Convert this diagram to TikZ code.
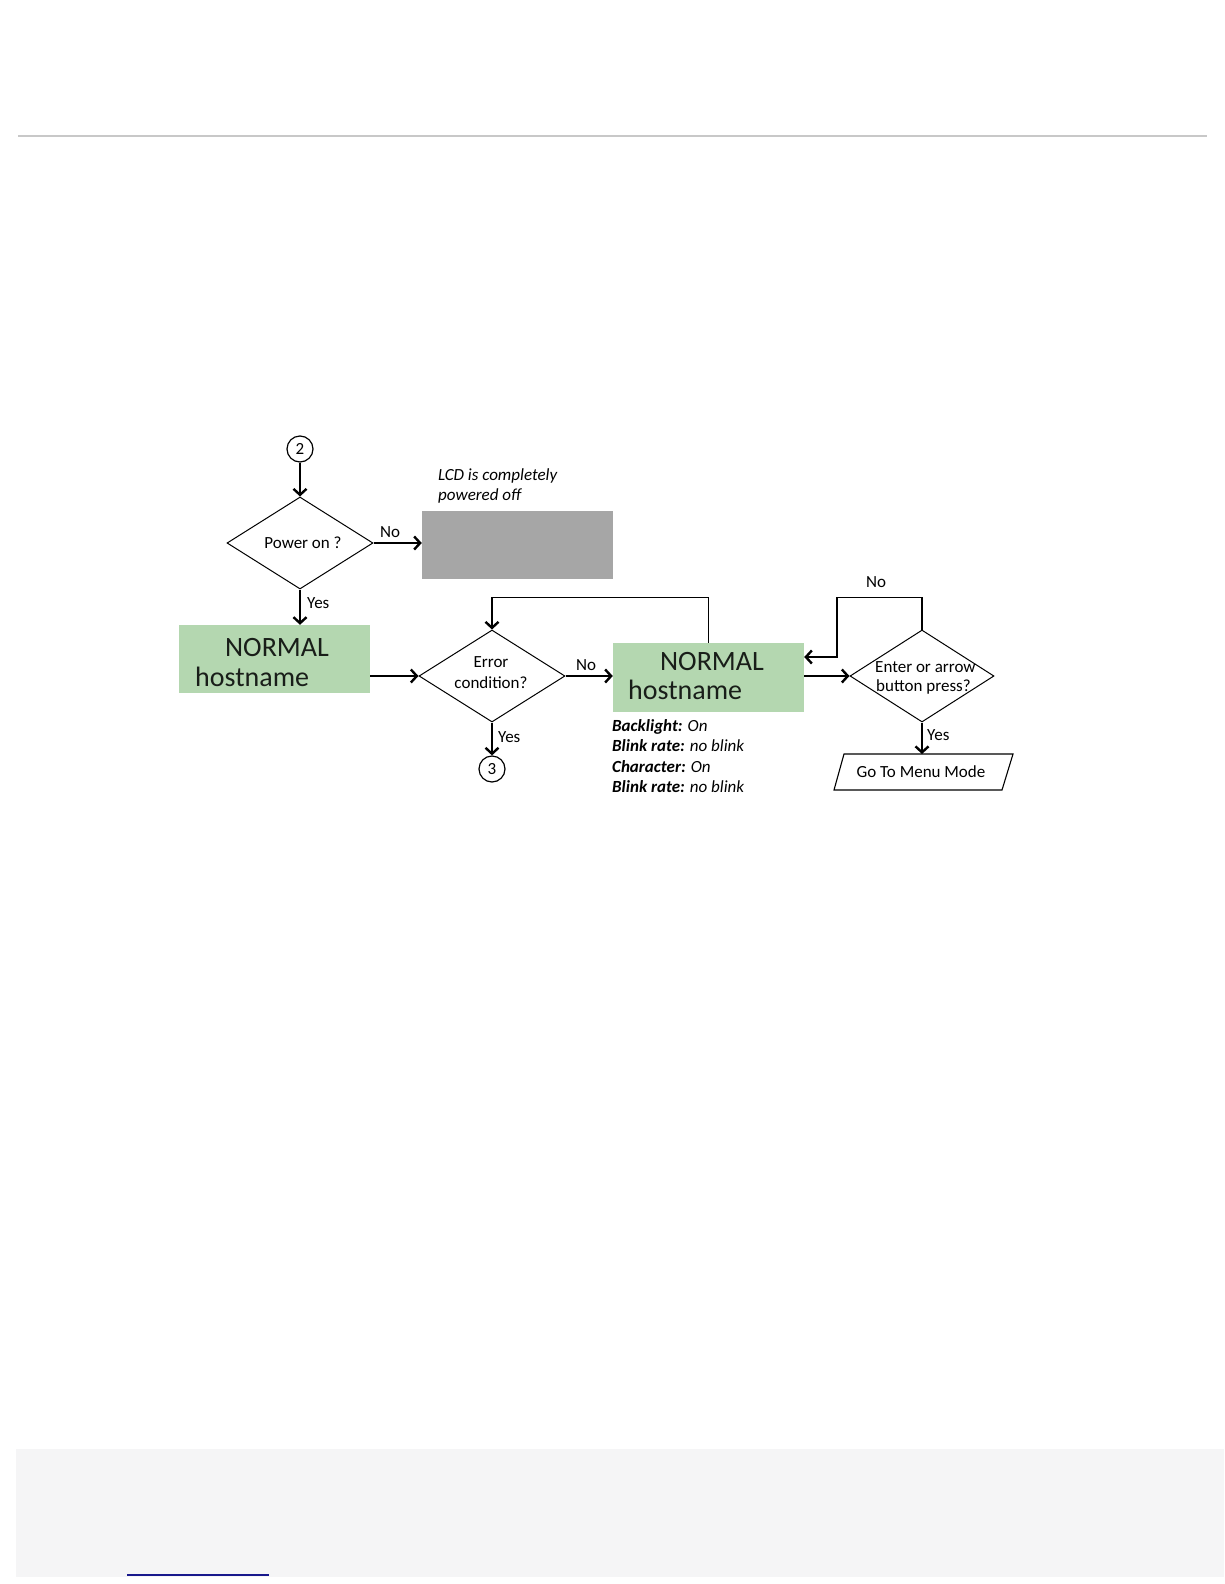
\documentclass[tikz,border=0pt]{standalone}
\usepackage{fontspec}
\setmainfont{Carlito}
\usetikzlibrary{arrows.meta,shapes.geometric}
\definecolor{boxgreen}{RGB}{180,215,176}
\definecolor{boxgray}{RGB}{166,166,166}
\definecolor{rulegray}{RGB}{200,200,200}
\definecolor{footgray}{RGB}{245,245,246}
\definecolor{linknavy}{RGB}{24,24,140}
\definecolor{ink}{RGB}{25,30,25}
\tikzset{
  conn/.style={line width=1.3pt, -{Straight Barb[length=6pt,width=13pt,line width=2.4pt]}},
  dia/.style={diamond, draw, line width=1pt, inner sep=0pt, minimum width=146pt, minimum height=92pt},
  greenbox/.style={rectangle, fill=boxgreen, inner sep=0pt, minimum width=191pt, minimum height=68pt},
  numcirc/.style={circle, draw, line width=1.2pt, minimum size=26pt, inner sep=0pt, font=\fontsize{17}{20}\selectfont},
  lbl/.style={inner sep=0pt, font=\fontsize{17}{20}\selectfont},
  big/.style={inner sep=0pt, text=ink, font=\fontsize{28}{31}\selectfont},
}
\begin{document}
\begin{tikzpicture}[x=1pt,y=-1pt]
\useasboundingbox (0,0) rectangle (1224,1584);
\fill[white] (0,0) rectangle (1224,1584);
% page decorations
\draw[rulegray, line width=1.5pt] (18,136) -- (1207,136);
\fill[footgray] (16,1449) rectangle (1224,1577);
\draw[linknavy, line width=1.5pt] (127,1575) -- (269,1575);

% nodes
\node[numcirc] (c2) at (300,449) {2};
\node[dia] (d1) at (300,543) {};
\node[lbl] (t1) at (303,543) {Power on ?};
\node[rectangle, fill=boxgray, inner sep=0pt, minimum width=191pt, minimum height=68pt] (off) at (517.5,545) {};
\node[lbl, anchor=base west] (lcd1) at (438,480) {\itshape LCD is completely};
\node[lbl, anchor=base west] (lcd2) at (438,500) {\itshape powered off};

\node[greenbox] (g1) at (274.5,659) {};
\node[big, anchor=base] (g1a) at (277,656) {NORMAL};
\node[big, anchor=base west] (g1b) at (195,686) {hostname};

\node[dia] (d2) at (492,676) {};
\node[lbl, anchor=base] (t2a) at (491,667) {Error};
\node[lbl, anchor=base] (t2b) at (491,688) {condition?};
\node[numcirc] (c3) at (492,769) {3};

\node[greenbox, minimum height=69pt] (g2) at (708.5,677.5) {};
\node[big, anchor=base] (g2a) at (712,670) {NORMAL};
\node[big, anchor=base west] (g2b) at (628,699) {hostname};

\node[lbl, anchor=base west] (n1) at (612,731) {{\bfseries\itshape Backlight:} \itshape On};
\node[lbl, anchor=base west] (n2) at (612,751.5) {{\bfseries\itshape Blink rate:} \itshape no blink};
\node[lbl, anchor=base west] (n3) at (612,772) {{\bfseries\itshape Character:} \itshape On};
\node[lbl, anchor=base west] (n4) at (612,792.5) {{\bfseries\itshape Blink rate:} \itshape no blink};

\node[dia, minimum width=144pt] (d3) at (922,676) {};
\node[lbl, anchor=base west] (t3a) at (875,672) {Enter or arrow};
\node[lbl, anchor=base west] (t3b) at (876,691) {button press?};

\draw[line width=1.1pt] (844,754) coordinate (mtl) -- (1013,754) -- (1002,790) -- (834,790) -- cycle;
\coordinate (menutop) at (922,754);
\node[lbl, anchor=base] (menu) at (921,777) {Go To Menu Mode};

% connectors
\draw[conn] (c2) -- (d1.north);
\draw[conn] (d1.east) -- (d1.east -| off.west);
\node[lbl, anchor=base] (no1) at (390,537) {No};
\draw[conn] (d1.south) -- (d1.south |- g1.north);
\node[lbl, anchor=base west] (yes1) at (307,608) {Yes};

\draw[conn] (g1.east |- d2.west) -- (d2.west);
\draw[conn] (d2.east) -- (d2.east -| g2.west);
\node[lbl, anchor=base] (no2) at (586,670) {No};
\draw[conn] (g2.north) -- ++(0,-45) -| (d2.north);
\draw[conn] (d2.south) -- (c3.north);
\node[lbl, anchor=base west] (yes2) at (498,742) {Yes};

\draw[conn] (g2.east |- d3.west) -- (d3.west);
\coordinate (noturn) at (837,657);
\draw[conn] (d3.north) -- ++(0,-32) -| (noturn) -- (noturn -| g2.east);
\node[lbl, anchor=base] (no3) at (876,587) {No};
\draw[conn] (d3.south) -- (menutop);
\node[lbl, anchor=base west] (yes3) at (927,740) {Yes};
\end{tikzpicture}
\end{document}
